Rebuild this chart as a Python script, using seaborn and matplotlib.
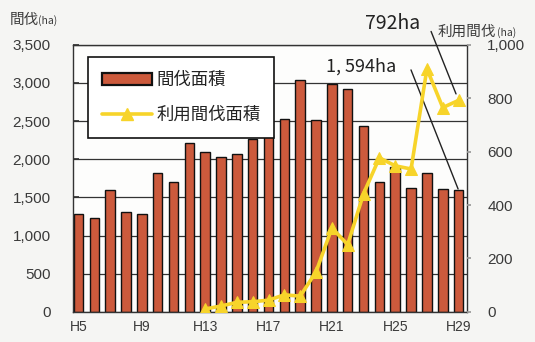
import matplotlib
matplotlib.use("Agg")
import matplotlib.pyplot as plt
import seaborn as sns
import pandas as pd
from matplotlib.patches import Patch
from matplotlib.lines import Line2D

# Fiscal years (Heisei era)
years = [f"H{n}" for n in range(5, 30)]

# Thinning area (ha), left axis
thinning_area = [1280, 1225, 1595, 1310, 1280, 1825, 1705, 2210, 2100, 2035,
                 2075, 2270, 2320, 2530, 3040, 2510, 2980, 2920, 2440, 1700,
                 1900, 1620, 1820, 1610, 1594]

# Utilization thinning area (ha), right axis, recorded from H13
util_years = [f"H{n}" for n in range(13, 30)]
util_area = [11, 22, 36, 38, 44, 64, 59, 150, 314, 252, 443, 577, 547, 535,
             910, 765, 792]

left_ticks = [0, 500, 1000, 1500, 2000, 2500, 3000, 3500]
right_ticks = [0, 200, 400, 600, 800, 1000]
xtick_labels = ["H5", "H9", "H13", "H17", "H21", "H25", "H29"]

bar_color = "#cc5a3c"
line_color = "#f7d42a"
text_color = "#3a3a3a"
cjk = ["Noto Sans CJK JP", "DejaVu Sans"]

sns.set_theme(style="white")
plt.rcParams["font.family"] = ["Liberation Sans", "Noto Sans CJK JP", "DejaVu Sans"]

fig = plt.figure(figsize=(5.35, 3.42), dpi=100, facecolor="#f5f5f3")
ax = fig.add_axes([0.136, 0.088, 0.736, 0.781])
ax.set_facecolor("#fdfdfc")

bars_df = pd.DataFrame({"year": years, "area": thinning_area})
sns.barplot(data=bars_df, x="year", y="area", color=bar_color, saturation=1,
            edgecolor="#111111", linewidth=1.0, width=0.6, ax=ax)

ax.set_xlim(-0.36, 24.5)
ax.set_ylim(0, 3500)
ax.set_yticks(left_ticks)
ax.set_yticklabels([f"{v:,}" for v in left_ticks])
pos = {y: i for i, y in enumerate(years)}
ax.set_xticks([pos[y] for y in xtick_labels])
ax.set_xticklabels(xtick_labels)
ax.set_xlabel("")
ax.set_ylabel("")
ax.set_axisbelow(True)
ax.yaxis.grid(True, color="#333333", linewidth=0.9)
ax.tick_params(axis="y", which="both", left=True, direction="in", length=4,
               color="#333333", pad=16, labelsize=11, labelcolor=text_color)
ax.tick_params(axis="x", length=0, pad=6, labelsize=10, labelcolor=text_color)
for s in ax.spines.values():
    s.set_color("#333333")
    s.set_linewidth(1.0)

ax2 = ax.twinx()
line_df = pd.DataFrame({"pos": [pos[y] for y in util_years], "area": util_area})
sns.lineplot(data=line_df, x="pos", y="area", color=line_color, linewidth=2.6,
             marker="^", markersize=9, markeredgecolor=line_color, ax=ax2)
ax2.set_ylim(0, 1000)
ax2.set_yticks(right_ticks)
ax2.set_yticklabels([f"{v:,}" for v in right_ticks])
ax2.set_xlim(ax.get_xlim())
ax2.set_ylabel("")
ax2.set_xlabel("")
ax2.tick_params(axis="y", right=True, direction="out", length=3,
                color="#999999", pad=12, labelsize=11, labelcolor=text_color)
for s in ax2.spines.values():
    s.set_visible(False)

handles = [
    Patch(facecolor=bar_color, edgecolor="#111111", linewidth=1.6),
    Line2D([0], [0], color=line_color, linewidth=2.6, marker="^",
           markersize=8, markeredgecolor=line_color),
]
leg = ax2.legend(handles, ["間伐面積", "利用間伐面積"], loc="upper left",
                 bbox_to_anchor=(0.038, 0.955), borderaxespad=0,
                 fancybox=False, framealpha=1, edgecolor="#111111",
                 handlelength=2.9, handleheight=0.7, labelspacing=1.0,
                 borderpad=0.8, handletextpad=0.25,
                 prop={"family": cjk, "size": 12.5})
leg.get_frame().set_linewidth(1.2)
for t in leg.get_texts():
    t.set_color("#222222")

# Axis titles
fig.text(10 / 535, 1 - 24 / 342, "間伐", family=cjk, fontsize=10.5,
         color=text_color)
fig.text(38 / 535, 1 - 24 / 342, "(ha)", family=cjk, fontsize=7.5,
         color=text_color)
fig.text(438 / 535, 1 - 36 / 342, "利用間伐", family=cjk, fontsize=10.5,
         color=text_color)
fig.text(497 / 535, 1 - 36 / 342, "(ha)", family=cjk, fontsize=7.5,
         color=text_color)

# Callouts for the latest year
last = len(years) - 1
ax2.text(0.812, 1.078, f"{util_area[-1]}ha", transform=ax2.transAxes,
         ha="center", va="center", family=cjk, fontsize=14, color="#222222")
ax2.annotate("", xy=(last, util_area[-1]), xycoords="data",
             xytext=(0.910, 1.050), textcoords="axes fraction",
             arrowprops=dict(arrowstyle="-", color="#222222", lw=1.0,
                             shrinkA=0, shrinkB=5))
ax.text(0.733, 0.918, f"{thinning_area[-1]:,}ha".replace(",", ", "),
        transform=ax.transAxes, ha="center", va="center", family=cjk,
        fontsize=13, color="#222222")
ax.annotate("", xy=(last, thinning_area[-1]), xycoords="data",
            xytext=(0.859, 0.906), textcoords="axes fraction",
            arrowprops=dict(arrowstyle="-", color="#222222", lw=1.0,
                            shrinkA=0, shrinkB=1))

fig.savefig("out.png", dpi=100, facecolor=fig.get_facecolor())
